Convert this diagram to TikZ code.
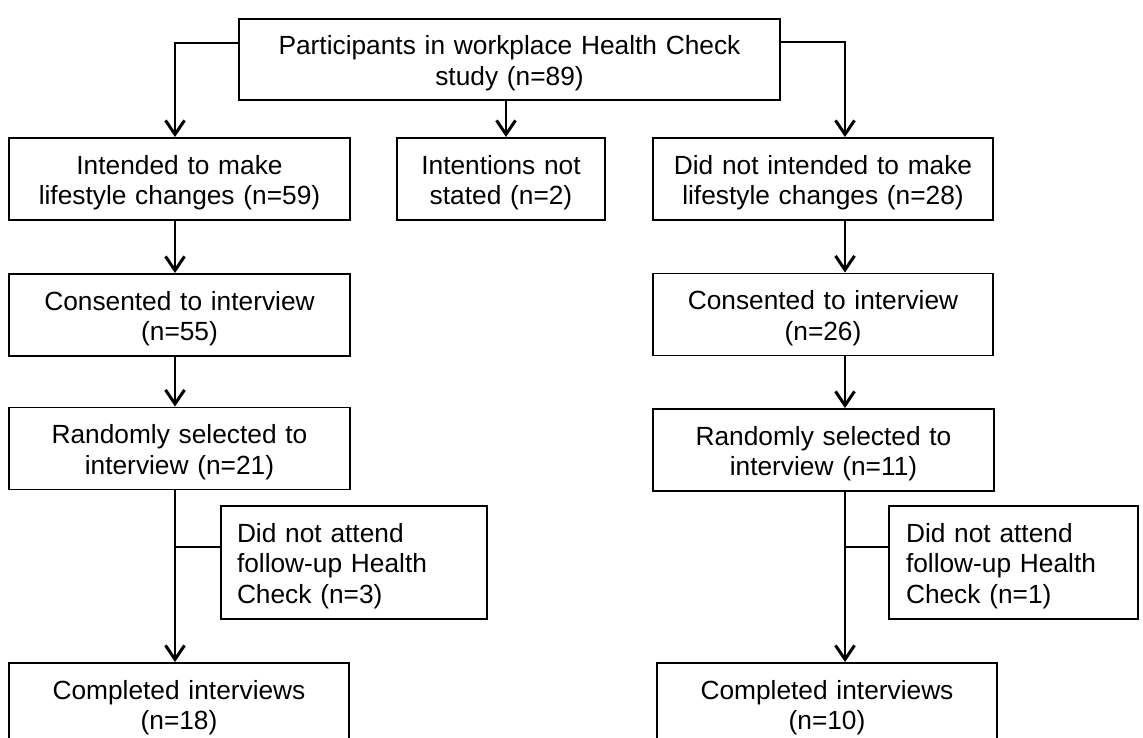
\documentclass[tikz,border=0pt]{standalone}
\usepackage{fontspec}
\setmainfont{Liberation Sans}
\usetikzlibrary{arrows.meta}
\begin{document}
\begin{tikzpicture}[x=1pt,y=-1pt,
  box/.style={draw, line width=1.9pt, inner xsep=0pt, inner ysep=0pt,
    align=center, minimum height=82pt,
    font=\fontsize{26.3}{30.5}\selectfont,
    execute at begin node={\rule{0pt}{26pt}}},
  note/.style={box, align=left, inner xsep=16pt, minimum height=113pt},
  link/.style={line width=1.9pt},
  arr/.style={link, -{Straight Barb[length=14pt,width=19pt,line width=3pt]}}]
\clip (0,0) rectangle (1143,738);

% columns of the vertical connectors
\coordinate (lc) at (175,0);
\coordinate (mc) at (506,0);
\coordinate (rc) at (845,0);

% boxes
\node[box, text width=541pt, minimum height=81pt] (T) at (509.5,59.5)
  {Participants in workplace Health Check\\study (n=89)};
\node[box, text width=341pt] (L1) at (179.5,179) {Intended to make\\lifestyle changes (n=59)};
\node[box, text width=208pt] (M1) at (501,179) {Intentions not\\stated (n=2)};
\node[box, text width=340pt] (R1) at (823,179) {Did not intended to make\\lifestyle changes (n=28)};
\node[box, text width=341pt] (L2) at (179.5,315) {Consented to interview\\(n=55)};
\node[box, text width=340pt] (R2) at (823,314.5) {Consented to interview\\(n=26)};
\node[box, text width=341pt] (L3) at (179.5,448.5) {Randomly selected to\\interview (n=21)};
\node[box, text width=341pt] (R3) at (823.5,450) {Randomly selected to\\interview (n=11)};
\node[note, text width=234pt] (SL) at (354,562.5) {Did not attend\\follow-up Health\\Check (n=3)};
\node[note, text width=215pt, inner xsep=17pt] (SR) at (1013.5,562.5) {Did not attend\\follow-up Health\\Check (n=1)};
\node[box, text width=340pt] (L4) at (179,704) {Completed interviews\\(n=18)};
\node[box, text width=340pt] (R4) at (827,704) {Completed interviews\\(n=10)};

% connectors
\draw[arr] ([yshift=16.5pt]T.west) -| (L1.north -| lc);
\draw[arr] (T.south -| mc) -- (M1.north -| mc);
\draw[arr] ([yshift=17.5pt]T.east) -| (R1.north -| rc);
\draw[arr] (L1.south -| lc) -- (L2.north -| lc);
\draw[arr] (L2.south -| lc) -- (L3.north -| lc);
\draw[arr] (L3.south -| lc) -- (L4.north -| lc);
\draw[arr] (R1.south -| rc) -- (R2.north -| rc);
\draw[arr] (R2.south -| rc) -- (R3.north -| rc);
\draw[arr] (R3.south -| rc) -- (R4.north -| rc);
\draw[link] ([yshift=15.5pt]SL.west) -- ([yshift=15.5pt]SL.west -| lc);
\draw[link] ([yshift=15.5pt]SR.west) -- ([yshift=15.5pt]SR.west -| rc);
\end{tikzpicture}
\end{document}
